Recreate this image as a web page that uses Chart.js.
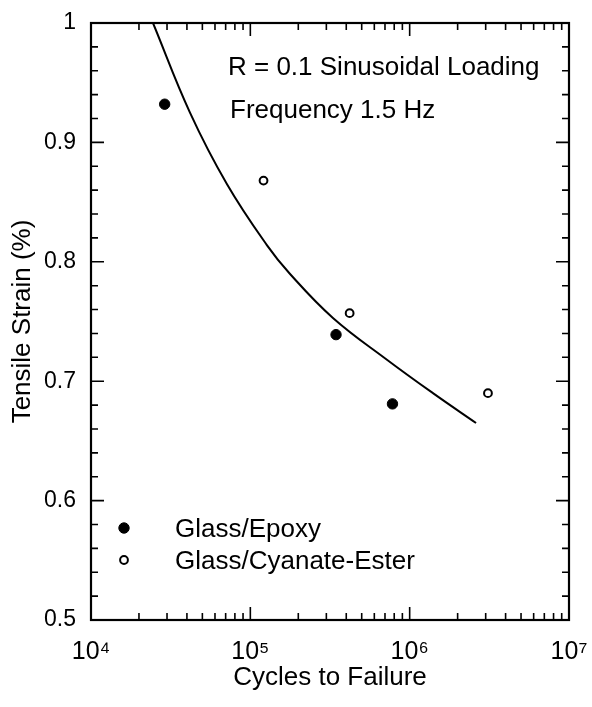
<!DOCTYPE html>
<html>
<head>
<meta charset="utf-8">
<script src="https://cdn.jsdelivr.net/npm/chart.js@4"></script>
<style>
  body { margin: 0; background: #fff; }
</style>
</head>
<body>
<canvas id="myChart" width="592" height="707"></canvas>
<script>
'use strict';

// data
const epoxyCycles = [29000, 345000, 780000];
const epoxyStrain = [0.932, 0.739, 0.681];
const cyanateCycles = [121000, 420000, 3100000];
const cyanateStrain = [0.868, 0.757, 0.690];
const fitCycles = [24500, 41800, 71400, 127000, 177000, 330000, 720000, 1400000, 2610000];
const fitStrain = [1.0, 0.925, 0.865, 0.814, 0.790, 0.753, 0.718, 0.690, 0.665];

const xTicks = [1e4, 1e5, 1e6, 1e7];
const xTickLabels = ['10\u2074', '10\u2075', '10\u2076', '10\u2077'];
const yTicks = [0.5, 0.6, 0.7, 0.8, 0.9, 1];
const yTickLabels = ['0.5', '0.6', '0.7', '0.8', '0.9', '1'];

const seriesNames = ['Glass/Epoxy', 'Glass/Cyanate-Ester'];
const noteLines = ['R = 0.1 Sinusoidal Loading', 'Frequency 1.5 Hz'];

const FONT = '"Liberation Sans", Arial, Helvetica, sans-serif';

const toXY = (xs, ys) => xs.map((x, i) => ({x: x, y: ys[i]}));

// frame + inward ticks on all four sides, plus the in-plot text
const framePlugin = {
  id: 'frame',
  afterDraw(chart) {
    const {ctx, chartArea: a, scales: {x, y}} = chart;
    ctx.save();
    ctx.strokeStyle = '#000';
    ctx.lineWidth = 2.2;
    ctx.strokeRect(a.left, a.top, a.right - a.left, a.bottom - a.top);

    ctx.lineWidth = 1.6;
    ctx.beginPath();
    // x: decades + 2..9 minors
    for (let d = 4; d < 7; d++) {
      for (let m = 1; m < 10; m++) {
        const px = x.getPixelForValue(m * Math.pow(10, d));
        const len = m === 1 ? 13 : 7;
        ctx.moveTo(px, a.bottom); ctx.lineTo(px, a.bottom - len);
        ctx.moveTo(px, a.top); ctx.lineTo(px, a.top + len);
      }
    }
    // y: 0.1 majors, 0.02 minors
    for (let k = 0; k <= 25; k++) {
      const v = 0.5 + k * 0.02;
      const py = y.getPixelForValue(v);
      const len = k % 5 === 0 ? 13 : 7;
      ctx.moveTo(a.left, py); ctx.lineTo(a.left + len, py);
      ctx.moveTo(a.right, py); ctx.lineTo(a.right - len, py);
    }
    ctx.stroke();

    // annotation
    ctx.fillStyle = '#000';
    ctx.font = '26px ' + FONT;
    ctx.textBaseline = 'alphabetic';
    ctx.textAlign = 'left';
    ctx.fillText(noteLines[0], 228, 75);
    ctx.fillText(noteLines[1], 230, 118);

    // legend
    const ds = chart.data.datasets;
    const rows = [528, 560];
    [0, 1].forEach((i) => {
      const d = ds[i];
      ctx.beginPath();
      ctx.arc(124, rows[i], d.pointRadius, 0, Math.PI * 2);
      ctx.fillStyle = d.pointBackgroundColor;
      ctx.fill();
      ctx.lineWidth = d.pointBorderWidth;
      ctx.strokeStyle = d.pointBorderColor;
      ctx.stroke();
      ctx.fillStyle = '#000';
      ctx.fillText(d.label, 175, rows[i] + 9);
    });
    ctx.restore();
  }
};

let myChartObj = {
  type: 'scatter',
  data: {
    datasets: [{
      label: seriesNames[0],
      data: toXY(epoxyCycles, epoxyStrain),
      pointRadius: 5.2,
      pointBackgroundColor: '#000',
      pointBorderColor: '#000',
      pointBorderWidth: 1
    },
    {
      label: seriesNames[1],
      data: toXY(cyanateCycles, cyanateStrain),
      pointRadius: 3.9,
      pointBackgroundColor: '#fff',
      pointBorderColor: '#000',
      pointBorderWidth: 2
    },
    {
      label: 'fit',
      type: 'line',
      data: toXY(fitCycles, fitStrain),
      showLine: true,
      borderColor: '#000',
      borderWidth: 2,
      pointRadius: 0,
      tension: 0.4,
      fill: false
    }]
  },
  options: {
    responsive: false,
    animation: false,
    devicePixelRatio: 1,
    layout: { padding: { top: 23, right: 23, left: 0, bottom: 0 } },
    plugins: {
      legend: { display: false },
      tooltip: { enabled: false }
    },
    scales: {
      x: {
        type: 'logarithmic',
        min: 1e4,
        max: 1e7,
        afterBuildTicks: (scale) => { scale.ticks = xTicks.map(v => ({value: v})); },
        afterFit: (scale) => {
          scale.height = 87;
          scale.paddingLeft = 0;
          scale.paddingRight = 0;
        },
        grid: { display: false, drawTicks: false },
        border: { display: false },
        ticks: {
          autoSkip: false,
          maxRotation: 0,
          padding: 17,
          color: '#000',
          font: { family: FONT, size: 25 },
          callback: (v) => xTickLabels[xTicks.indexOf(v)] || ''
        },
        title: {
          display: true,
          text: 'Cycles to Failure',
          color: '#000',
          font: { family: FONT, size: 26 },
          padding: { top: 0, bottom: 14 }
        }
      },
      y: {
        min: 0.5,
        max: 1,
        afterBuildTicks: (scale) => { scale.ticks = yTicks.map(v => ({value: v})); },
        afterFit: (scale) => {
          scale.width = 91;
          scale.paddingTop = 0;
          scale.paddingBottom = 0;
        },
        grid: { display: false, drawTicks: false },
        border: { display: false },
        ticks: {
          padding: 15,
          color: '#000',
          font: { family: FONT, size: 23 },
          callback: (v) => yTickLabels[yTicks.findIndex(t => Math.abs(t - v) < 1e-9)]
        },
        title: {
          display: true,
          text: 'Tensile Strain (%)',
          color: '#000',
          font: { family: FONT, size: 26 },
          padding: { top: 7, bottom: 0 }
        }
      }
    }
  },
  plugins: [framePlugin]
};

const ctx = document.getElementById('myChart').getContext('2d');
const myChart = new Chart(ctx, myChartObj);
</script>
</body>
</html>
